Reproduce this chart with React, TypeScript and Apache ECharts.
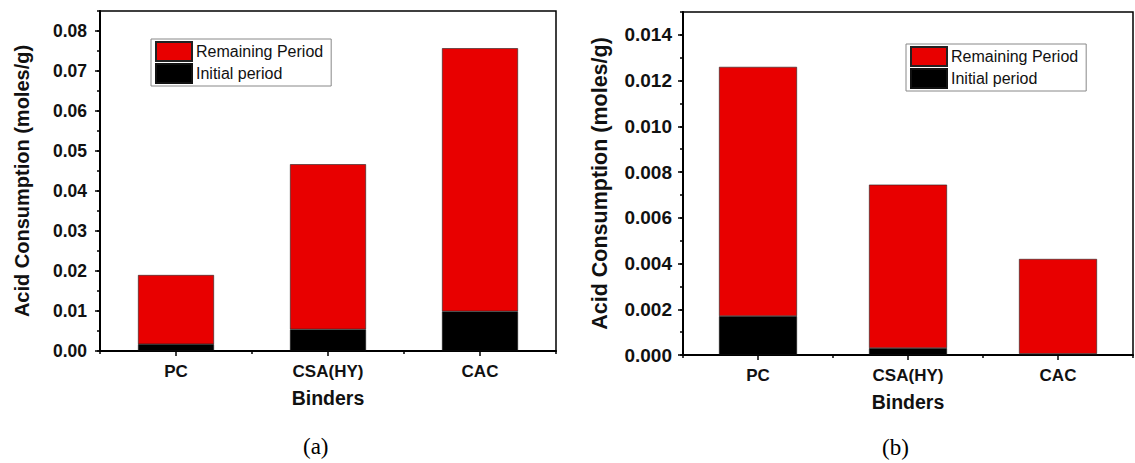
import React, { useEffect, useRef } from 'react';
import * as echarts from 'echarts';

const categories = ['PC', 'CSA(HY)', 'CAC'];
const initialA = [0.0017, 0.0054, 0.0099];
const remainingA = [0.0173, 0.0413, 0.0658];
const initialB = [0.0017, 0.0003, 0.00005];
const remainingB = [0.0109, 0.00715, 0.00415];
const seriesNames = ['Remaining Period', 'Initial period'];
const yNameText = 'Acid Consumption (moles/g)';
const xNameText = 'Binders';
const captions = ['(a)', '(b)'];

const FONT = 'Liberation Sans, Arial, sans-serif';
const SERIF = 'Liberation Serif, Times New Roman, serif';
const RED = '#e80000';
const BLACK = '#000000';

function makeXAxes(gridIndex: number, nameGap: number) {
  return [
    {
      type: 'category',
      gridIndex,
      data: categories,
      boundaryGap: true,
      position: 'bottom',
      axisLine: { show: true, lineStyle: { color: '#000', width: 2 } },
      axisTick: { show: true, alignWithLabel: true, length: 5, lineStyle: { color: '#000', width: 1.5 } },
      axisLabel: { fontSize: 17, fontWeight: 'bold', color: '#111', margin: 12, fontFamily: FONT },
      splitLine: { show: false },
      name: xNameText,
      nameLocation: 'middle',
      nameGap,
      nameTextStyle: { fontSize: 19.5, fontWeight: 'bold', color: '#111', fontFamily: FONT },
    },
    {
      type: 'category',
      gridIndex,
      data: categories,
      boundaryGap: true,
      position: 'bottom',
      axisLine: { show: false },
      axisTick: { show: true, length: 3, lineStyle: { color: '#000', width: 1.5 } },
      axisLabel: { show: false },
      splitLine: { show: false },
    },
  ];
}

function makeYAxes(
  gridIndex: number,
  max: number,
  interval: number,
  digits: number,
  nameGap: number,
  tickFont: number,
  nameFont: number,
  labelMargin: number
) {
  return [
    {
      type: 'value',
      gridIndex,
      position: 'left',
      min: 0,
      max,
      interval,
      axisLine: { show: true, lineStyle: { color: '#000', width: 2 } },
      axisTick: { show: true, length: 5, lineStyle: { color: '#000', width: 1.5 } },
      axisLabel: {
        fontSize: tickFont,
        fontWeight: 'bold',
        color: '#111',
        margin: labelMargin,
        fontFamily: FONT,
        showMaxLabel: false,
        formatter: (v: number) => v.toFixed(digits),
      },
      splitLine: { show: false },
      name: yNameText,
      nameLocation: 'middle',
      nameRotate: 90,
      nameGap,
      nameTextStyle: { fontSize: nameFont, fontWeight: 'bold', color: '#111', fontFamily: FONT },
    },
    {
      type: 'value',
      gridIndex,
      position: 'left',
      min: 0,
      max,
      interval: interval / 2,
      axisLine: { show: false },
      axisTick: { show: true, length: 3, lineStyle: { color: '#000', width: 1.5 } },
      axisLabel: { show: false },
      splitLine: { show: false },
    },
  ];
}

function makeSeries(axisIndex: number, stack: string, initial: number[], remaining: number[], barWidth: string) {
  return [
    {
      name: seriesNames[1],
      type: 'bar',
      stack,
      xAxisIndex: axisIndex,
      yAxisIndex: axisIndex,
      data: initial,
      barWidth,
      itemStyle: { color: BLACK, borderColor: '#111', borderWidth: 0.6 },
    },
    {
      name: seriesNames[0],
      type: 'bar',
      stack,
      xAxisIndex: axisIndex,
      yAxisIndex: axisIndex,
      data: remaining,
      barWidth,
      itemStyle: { color: RED, borderColor: '#222', borderWidth: 0.6 },
    },
  ];
}

function makeLegend(left: number, top: number) {
  return {
    data: seriesNames,
    orient: 'vertical',
    left,
    top,
    icon: 'rect',
    itemWidth: 36,
    itemHeight: 19,
    itemGap: 1,
    padding: [2, 8, 2, 4],
    borderColor: '#888',
    borderWidth: 1,
    selectedMode: false,
    textStyle: { fontSize: 16, lineHeight: 19, color: '#111', fontFamily: FONT, padding: [0, 0, 0, -1] },
  };
}

export default function App() {
  const ref = useRef<HTMLDivElement>(null);
  useEffect(() => {
    if (!ref.current) return;
    const chart = echarts.init(ref.current, undefined, { renderer: 'svg' });
    chart.setOption({
      animation: false,
      backgroundColor: '#ffffff',
      grid: [
        { left: 100, top: 11, width: 456, height: 340, show: true, borderColor: '#000', borderWidth: 1.5, backgroundColor: 'transparent' },
        { left: 683, top: 12, width: 450, height: 343, show: true, borderColor: '#000', borderWidth: 1.5, backgroundColor: 'transparent' },
      ],
      xAxis: [...makeXAxes(0, 37), ...makeXAxes(1, 37)],
      yAxis: [
        ...makeYAxes(0, 0.085, 0.01, 2, 68, 17.5, 20, 13),
        ...makeYAxes(1, 0.015, 0.002, 3, 72, 19, 21.5, 11),
      ],
      legend: [makeLegend(151, 39), makeLegend(906, 44)],
      series: [
        ...makeSeries(0, 'a', initialA, remainingA, '50%'),
        ...makeSeries(2, 'b', initialB, remainingB, '52%'),
      ],
      graphic: [
        {
          type: 'text',
          left: 303,
          top: 435,
          style: { text: captions[0], fontSize: 23, fontFamily: SERIF, fill: '#000' },
        },
        {
          type: 'text',
          left: 882,
          top: 436,
          style: { text: captions[1], fontSize: 23, fontFamily: SERIF, fill: '#000' },
        },
      ],
    });
    return () => chart.dispose();
  }, []);
  return (
    <div
      ref={ref}
      style={{ position: 'absolute', left: 0, top: 0, width: 1135, height: 463, background: '#fff' }}
    />
  );
}
